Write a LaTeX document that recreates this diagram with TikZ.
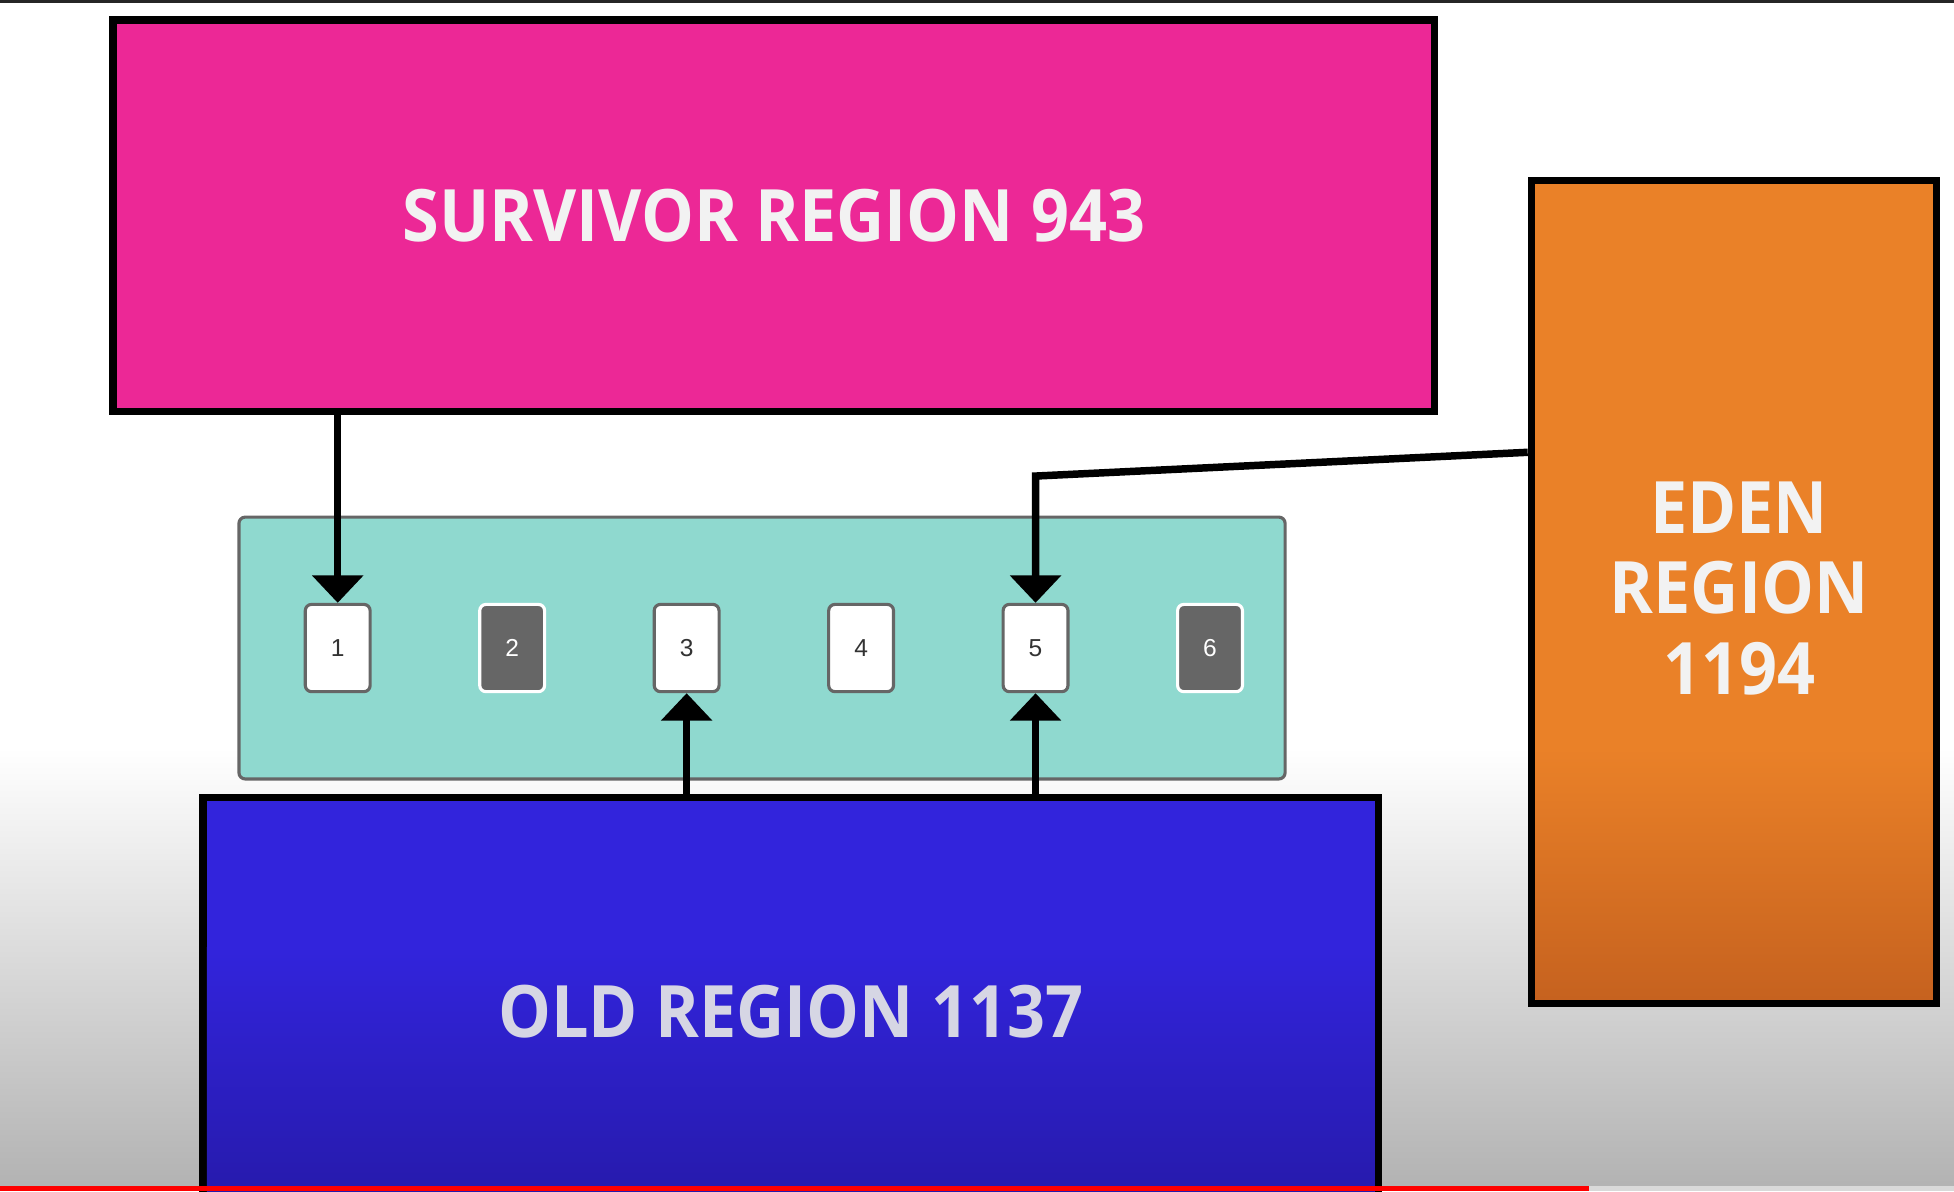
\documentclass[tikz,border=0pt]{standalone}
\usepackage{fontspec}
\newfontfamily\hfont{Open Sans}[FakeStretch=0.92]
\setsansfont{Liberation Sans}
\usetikzlibrary{arrows.meta}
\definecolor{pinkR}{HTML}{EC2896}
\definecolor{orangeT}{HTML}{EA8128}
\definecolor{orangeB}{HTML}{C6621F}
\definecolor{blueT}{HTML}{3224DC}
\definecolor{blueB}{HTML}{2519A6}
\definecolor{tealC}{HTML}{8FD9CF}
\definecolor{grayB}{HTML}{666666}
\definecolor{darkC}{HTML}{666666}
\definecolor{oldText}{HTML}{D6D6E4}
\definecolor{lightText}{HTML}{F2F2F2}
\begin{document}
\begin{tikzpicture}[x=0.01cm,y=-0.01cm,
  region/.style={draw=black, line width=0.06cm, inner sep=0pt, align=center,
    font=\hfont\bfseries\fontsize{16.5}{18.4}\selectfont, text=lightText},
  cell/.style={draw=grayB, fill=white, line width=0.025cm, rounded corners=0.05cm,
    minimum width=0.52cm, minimum height=0.7cm, inner sep=0pt,
    font=\sffamily\fontsize{5.6}{6}\selectfont, text=black!80},
  darkcell/.style={cell, fill=darkC, draw=white, text=white},
  arr/.style={draw=black, line width=0.06cm, -{Triangle[width=0.4cm,length=0.22cm]}}]
\useasboundingbox (0,0) rectangle (1568,956);
\clip (0,0) rectangle (1568,956);
% background
\fill[white] (0,0) rectangle (1568,956);
\shade[top color=white, bottom color=black!30] (0,600) rectangle (1568,952);
\draw[line width=0.02cm, black!85] (0,1) -- (1568,1);

% regions
\node[region, fill=pinkR, minimum width=10.6cm, minimum height=3.14cm] (surv) at (621,173) {SURVIVOR REGION 943};
\node[region, fill=orangeT, minimum width=3.25cm, minimum height=6.6cm] (eden) at (1391.5,475) {};
\shade[top color=orangeT, bottom color=orangeB] (1232,600) rectangle (1551,802);
\node[font=\hfont\bfseries\fontsize{16.5}{18.4}\selectfont, text=lightText, align=center, inner sep=0pt] (edentxt) at ([xshift=0.04cm,yshift=0.03cm]eden.center) {EDEN\\REGION\\1194};
\node[region, fill=blueT, minimum width=9.43cm, minimum height=3.44cm] (old) at (634.5,812) {};
\shade[top color=blueT, bottom color=blueB] (166,760) rectangle (1103,984);
\node[font=\hfont\bfseries\fontsize{16.5}{18.4}\selectfont, text=oldText, inner sep=0pt] (oldtxt) at (old.center) {OLD REGION 1137};

% row of cells
\node[draw=grayB, line width=0.025cm, fill=tealC, rounded corners=0.05cm,
  minimum width=8.39cm, minimum height=2.1cm, inner sep=0pt] (row) at (611.5,520) {};
\node[cell] (b1) at (271,520) {1};
\node[darkcell] (b2) at (411,520) {2};
\node[cell] (b3) at (551,520) {3};
\node[cell] (b4) at (691,520) {4};
\node[cell] (b5) at (831,520) {5};
\node[darkcell] (b6) at (971,520) {6};

% connectors
\draw[arr] (surv.south -| b1.north) -- (b1.north);
\coordinate (bend) at (831,382);
\draw[arr] ([yshift=1.12cm]eden.west) -- (bend) -- (b5.north);
\draw[arr] (old.north -| b3.south) -- (b3.south);
\draw[arr] (old.north -| b5.south) -- (b5.south);

% bottom progress bar
\fill[red] (0,952) rectangle (1275,956);
\fill[black!15] (1275,952) rectangle (1568,956);
\end{tikzpicture}
\end{document}
